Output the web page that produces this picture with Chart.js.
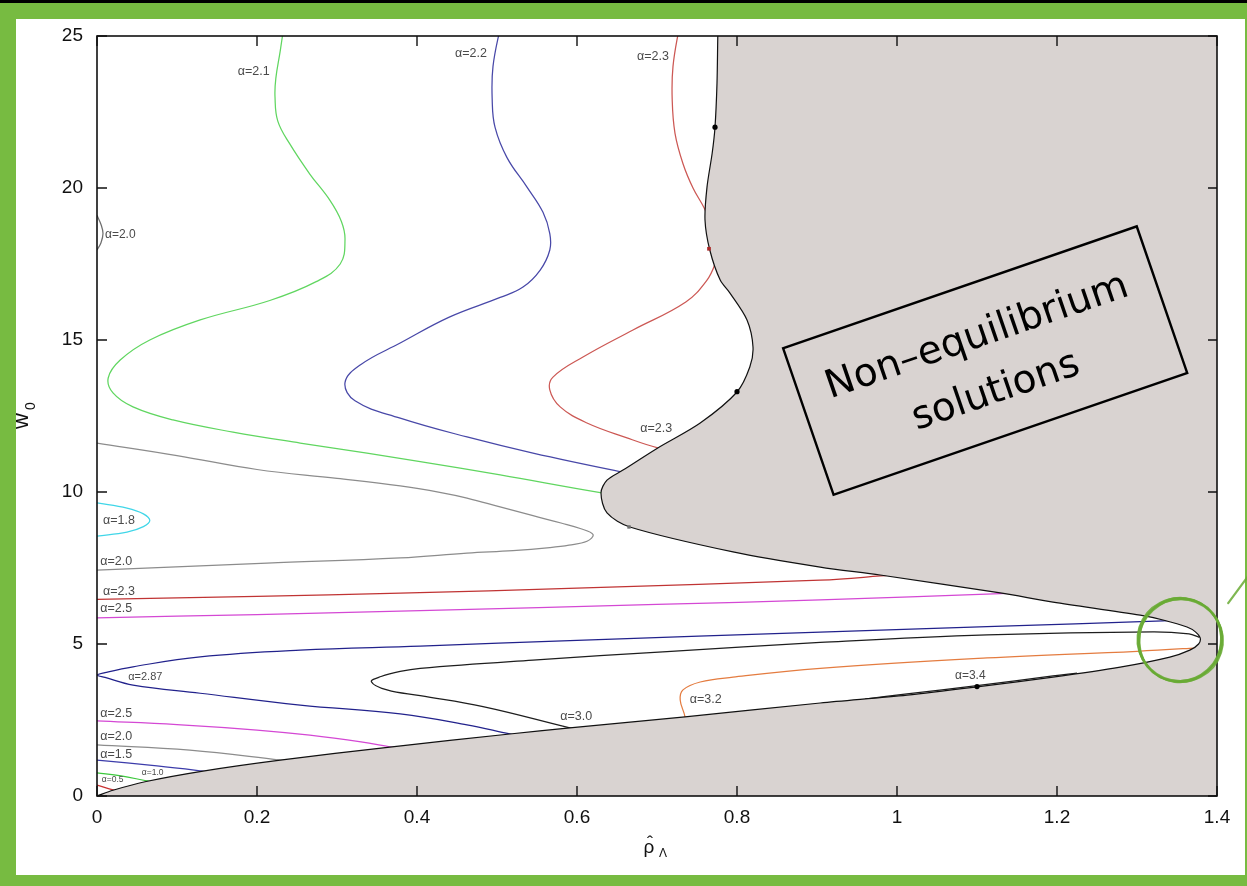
<!DOCTYPE html>
<html>
<head>
<meta charset="utf-8">
<title>w0 versus rho-hat Lambda</title>
<script src="https://cdn.jsdelivr.net/npm/chart.js@4.4.1/dist/chart.umd.min.js"></script>
<style>
  html, body { margin: 0; padding: 0; }
  body { width: 1247px; height: 886px; position: relative; overflow: hidden; background: #77bb41; }
  #topband { position: absolute; left: 0; top: 0; width: 1247px; height: 3px; background: #000; }
  #panel { position: absolute; left: 16px; top: 19px; width: 1229px; height: 856px; background: #fff; }
  #c { position: absolute; left: 0; top: 0; }
</style>
</head>
<body>
<div id="topband"></div>
<div id="panel"></div>
<canvas id="c" width="1247" height="886"></canvas>
<script>
// ---- axis ticks ----
const xTicks = [0, 0.2, 0.4, 0.6, 0.8, 1, 1.2, 1.4];
const yTicks = [0, 5, 10, 15, 20, 25];

// ---- edge of the non-equilibrium region: [rho, w0], ordered by w0 ----
const boundary = [[0,0],[0.02,0.19],[0.06,0.47],[0.1325,0.82],[0.229,1.18],[0.366,1.61],[0.516,2.04],[0.591,2.24],[0.735,2.6],[0.904,3.06],[1.0125,3.32],[1.1,3.59],[1.195,3.91],[1.279,4.24],[1.341,4.57],[1.366,4.8],[1.377,5.0],[1.379,5.2],[1.373,5.4],[1.3625,5.56],[1.3325,5.79],[1.304,5.95],[1.195,6.38],[1.129,6.68],[0.979,7.27],[0.904,7.53],[0.795,8.03],[0.666,8.85],[0.6375,9.31],[0.63,9.97],[0.6375,10.39],[0.6575,10.72],[0.701,11.45],[0.754,12.27],[0.8,13.29],[0.816,14.11],[0.82,14.77],[0.8125,15.66],[0.791,16.55],[0.779,16.97],[0.766,17.96],[0.76,18.95],[0.7625,20.03],[0.769,21.15],[0.7725,22.0],[0.775,23.45],[0.776,25]];
// outer corners closing the region off to the right of the edge
const regionCorners = [[0.777,26],[1.5,26],[1.5,-1],[-0.05,-0.475]];

// ---- alpha contours: [rho, w0] ----
const alpha21 = [[0.234,25.4],[0.229,24.5],[0.2235,23.6],[0.2225,23.0],[0.226,22.2],[0.241,21.45],[0.266,20.46],[0.291,19.6],[0.3055,18.9],[0.31,18.3],[0.304,17.5],[0.274,16.92],[0.216,16.3],[0.129,15.66],[0.066,15.0],[0.029,14.34],[0.014,13.75],[0.02,13.26],[0.045,12.8],[0.095,12.37],[0.17,11.97],[0.254,11.61],[0.3375,11.28],[0.404,11.0],[0.504,10.56],[0.631,9.97],[0.66,9.88]];
const alpha22 = [[0.505,25.4],[0.495,24],[0.494,22.9],[0.4975,22.0],[0.5125,21.0],[0.5375,20.03],[0.5575,19.2],[0.566,18.5],[0.566,17.96],[0.554,17.3],[0.5325,16.74],[0.504,16.4],[0.441,15.76],[0.379,14.9],[0.329,14.18],[0.31,13.6],[0.3225,13.0],[0.379,12.43],[0.4625,11.81],[0.545,11.28],[0.656,10.66],[0.69,10.5]];
const alpha23top = [[0.7285,25.4],[0.72,24.0],[0.719,22.9],[0.7225,21.8],[0.7325,20.8],[0.745,20.0],[0.759,19.34],[0.771,18.6],[0.776,17.95],[0.7725,17.5],[0.7625,16.97],[0.736,16.25],[0.67,15.33],[0.6075,14.44],[0.57,13.78],[0.566,13.36],[0.579,12.8],[0.6125,12.27],[0.6625,11.78],[0.701,11.45],[0.73,11.3]];
const alpha20top = [[0,19.1],[0.005,18.8],[0.0075,18.5],[0.005,18.2],[0,17.96]];
const alpha18 = [[0,9.64],[0.0375,9.47],[0.058,9.28],[0.066,9.06],[0.058,8.86],[0.0375,8.68],[0,8.55]];
const alpha20mid = [[0,11.61],[0.1,11.2],[0.2,10.74],[0.3,10.45],[0.379,10.2],[0.43,9.98],[0.4625,9.8],[0.505,9.5],[0.545,9.22],[0.58,8.98],[0.604,8.8],[0.62,8.6],[0.6125,8.38],[0.59,8.25],[0.566,8.17],[0.52,8.07],[0.4625,7.99],[0.379,7.83],[0.2125,7.66],[0,7.43]];
const alpha23low = [[0,6.47],[0.2,6.57],[0.379,6.67],[0.6,6.84],[0.904,7.1],[0.979,7.24],[1.0,7.3]];
const alpha25mid = [[0,5.86],[0.2,5.97],[0.404,6.1],[0.7,6.3],[0.904,6.45],[1.129,6.66],[1.16,6.7]];
const alpha287 = [[1.35,5.79],[1.3325,5.76],[1.1125,5.57],[0.904,5.39],[0.6,5.12],[0.404,4.93],[0.254,4.8],[0.129,4.58],[0.045,4.25],[0.01,4.06],[0,3.98],[0.01,3.9],[0.045,3.65],[0.129,3.38],[0.254,2.99],[0.379,2.7],[0.4625,2.34],[0.516,2.04],[0.53,1.97]];
const alpha30 = [[1.378,5.22],[1.365,5.33],[1.32,5.4],[1.1125,5.3],[0.904,5.05],[0.7125,4.75],[0.545,4.47],[0.404,4.2],[0.379,4.1],[0.355,3.93],[0.343,3.76],[0.3625,3.49],[0.404,3.3],[0.4825,2.94],[0.591,2.24],[0.6,2.19]];
const alpha32 = [[0.733,2.5],[0.735,2.6],[0.729,3.16],[0.7325,3.49],[0.754,3.75],[0.795,3.91],[0.904,4.2],[1.1125,4.54],[1.3,4.76],[1.366,4.86],[1.385,4.9]];
const alpha34 = [[0.96,3.19],[1.0125,3.36],[1.1,3.63],[1.195,3.95],[1.225,4.04]];
const alpha25low = [[0,2.47],[0.1,2.35],[0.2,2.17],[0.266,2.0],[0.33,1.78],[0.366,1.62],[0.38,1.56]];
const alpha20low = [[0,1.68],[0.116,1.51],[0.229,1.18],[0.24,1.14]];
const alpha15 = [[0,1.18],[0.075,0.99],[0.1325,0.82],[0.14,0.79]];
const alpha10 = [[0,0.76],[0.03,0.66],[0.06,0.51],[0.066,0.48]];
const alpha05 = [[0,0.36],[0.02,0.2],[0.025,0.17]];

// ---- marked solutions ----
const blackDots = [[0.7725,22.0],[0.8,13.3],[1.1,3.6]];
const redSquares = [[0.765,18.0]];
const greySquares = [[0.665,8.85]];

// ---- contour labels (text, rho, w0 of the label's left end) ----
const labelText = ['α=2.1','α=2.2','α=2.3','α=2.0','α=2.3','α=1.8','α=2.0','α=2.3','α=2.5','α=2.87','α=3.0','α=3.2','α=3.4','α=2.5','α=2.0','α=1.5','α=1.0','α=0.5'];
const labelRho  = [0.176, 0.4475, 0.675, 0.01, 0.679, 0.0075, 0.004, 0.0075, 0.004, 0.039, 0.579, 0.741, 1.0725, 0.004, 0.004, 0.004, 0.056, 0.006];
const labelW    = [23.82, 24.41, 24.31, 18.45, 12.1, 9.05, 7.7, 6.74, 6.15, 3.91, 2.63, 3.16, 3.95, 2.70, 1.94, 1.38, 0.76, 0.53];
const labelPx   = [12.5, 12.5, 12.5, 12, 12.5, 12.5, 12.5, 12.5, 12.5, 11, 12.5, 12.5, 12, 12.5, 12.5, 12.5, 8.5, 8.5];

// ---- annotation anchors (data space) ----
const boxCentre = [1.11, 14.34];
const circleCentre = [1.354, 5.13];

const pts = arr => arr.map(([x, y]) => ({x, y}));

// contour series with their line colours
const contourSeries = [
  [alpha21, 'rgb(96,214,96)'],
  [alpha22, 'rgb(72,72,168)'],
  [alpha23top, 'rgb(204,88,84)'],
  [alpha20top, 'rgb(110,110,110)'],
  [alpha18, 'rgb(64,214,232)'],
  [alpha20mid, 'rgb(140,140,140)'],
  [alpha23low, 'rgb(192,52,52)'],
  [alpha25mid, 'rgb(212,72,212)'],
  [alpha287, 'rgb(34,34,140)'],
  [alpha30, 'rgb(30,30,30)'],
  [alpha32, 'rgb(228,124,64)'],
  [alpha34, 'rgb(30,30,30)'],
  [alpha25low, 'rgb(212,72,212)'],
  [alpha20low, 'rgb(140,140,140)'],
  [alpha15, 'rgb(60,60,170)'],
  [alpha10, 'rgb(60,200,60)'],
  [alpha05, 'rgb(200,50,50)']
];

const datasets = [];
// marked points, on top of everything
datasets.push({ data: pts(blackDots), showLine: false, pointRadius: 2.6, pointBackgroundColor: '#000', pointBorderWidth: 0, order: 0 });
datasets.push({ data: pts(redSquares), showLine: false, pointStyle: 'rect', pointRadius: 2.6, pointBackgroundColor: 'rgb(170,40,40)', pointBorderWidth: 0, order: 0 });
datasets.push({ data: pts(greySquares), showLine: false, pointStyle: 'rect', pointRadius: 2.4, pointBackgroundColor: 'rgb(110,110,110)', pointBorderWidth: 0, order: 0 });
// shaded region with its black edge
datasets.push({
  data: pts(boundary.concat(regionCorners)),
  borderColor: '#111', borderWidth: 1.2, backgroundColor: 'rgb(217,211,209)',
  fill: 'shape', tension: 0.3, pointRadius: 0, order: 1
});
// contours drawn underneath the region
contourSeries.forEach(([arr, col]) => {
  datasets.push({ data: pts(arr), borderColor: col, borderWidth: 1.25, fill: false, tension: 0.4, pointRadius: 0, order: 2 });
});

const FONT = "'Liberation Sans', Arial, Helvetica, sans-serif";

const decor = {
  id: 'decor',
  afterDatasetsDraw(chart) {
    const {ctx, chartArea: a, scales: {x, y}} = chart;
    ctx.save();
    // frame
    ctx.strokeStyle = '#111';
    ctx.lineWidth = 1.6;
    ctx.strokeRect(a.left, a.top, a.right - a.left, a.bottom - a.top);
    // inward tick marks on all four sides
    ctx.lineWidth = 1.4;
    ctx.beginPath();
    xTicks.forEach(v => {
      const px = x.getPixelForValue(v);
      ctx.moveTo(px, a.bottom); ctx.lineTo(px, a.bottom - 10);
      ctx.moveTo(px, a.top); ctx.lineTo(px, a.top + 10);
    });
    yTicks.forEach(v => {
      const py = y.getPixelForValue(v);
      ctx.moveTo(a.left, py); ctx.lineTo(a.left + 10, py);
      ctx.moveTo(a.right, py); ctx.lineTo(a.right - 9, py);
    });
    ctx.stroke();

    // contour labels
    ctx.fillStyle = '#4a4a4a';
    ctx.textAlign = 'left';
    ctx.textBaseline = 'middle';
    labelText.forEach((t, i) => {
      ctx.font = labelPx[i] + 'px ' + FONT;
      ctx.fillText(t, x.getPixelForValue(labelRho[i]), y.getPixelForValue(labelW[i]));
    });

    // boxed note in the shaded region
    const bx = x.getPixelForValue(boxCentre[0]);
    const by = y.getPixelForValue(boxCentre[1]);
    ctx.translate(bx, by);
    ctx.rotate(-19 * Math.PI / 180);
    ctx.strokeStyle = '#000';
    ctx.lineWidth = 2.4;
    ctx.strokeRect(-187, -77, 374, 155);
    ctx.fillStyle = '#000';
    ctx.textAlign = 'center';
    ctx.textBaseline = 'alphabetic';
    ctx.font = "39px 'DejaVu Sans', sans-serif";
    ctx.fillText('Non–equilibrium', 0, -14);
    ctx.fillText('solutions', 0, 44);
    ctx.restore();

    // axis titles
    ctx.save();
    ctx.fillStyle = '#111';
    ctx.textAlign = 'center';
    ctx.textBaseline = 'alphabetic';
    const tx = (a.left + a.right) / 2 - 8;
    ctx.font = '19px ' + FONT;
    ctx.fillText('ρ', tx, 853);
    ctx.font = '18px ' + FONT;
    ctx.fillText('ˆ', tx + 1, 849);
    ctx.font = '12px ' + FONT;
    ctx.fillText('Λ', tx + 14, 857);

    ctx.translate(24, (a.top + a.bottom) / 2 + 5);
    ctx.rotate(-Math.PI / 2);
    ctx.font = '22px ' + FONT;
    ctx.fillText('w', 0, 4);
    ctx.font = '14px ' + FONT;
    ctx.fillText('0', 15, 11);
    ctx.restore();
  },
  afterDraw(chart) {
    // hand-drawn green ring round the tip of the region
    const {ctx, scales: {x, y}} = chart;
    const cx = x.getPixelForValue(circleCentre[0]);
    const cy = y.getPixelForValue(circleCentre[1]);
    ctx.save();
    ctx.strokeStyle = 'rgba(104,170,52,0.85)';
    ctx.lineCap = 'round';
    const rings = [[42, 41, 0.0, 2.2], [43, 42, 0.3, 1.6], [41, 42.5, 0.9, 1.6], [42.5, 40.5, 1.7, 1.4], [41.5, 40, 2.4, 1.2]];
    rings.forEach(([rx, ry, rot, lw]) => {
      ctx.lineWidth = lw;
      ctx.beginPath();
      ctx.ellipse(cx, cy, rx, ry, rot, 0, Math.PI * 2);
      ctx.stroke();
    });
    ctx.lineWidth = 2.2;
    ctx.beginPath();
    ctx.moveTo(cx + 48, cy - 37);
    ctx.lineTo(cx + 68, cy - 64);
    ctx.stroke();
    ctx.restore();
  }
};

new Chart(document.getElementById('c'), {
  type: 'line',
  data: { datasets },
  options: {
    responsive: false,
    animation: false,
    events: [],
    layout: { padding: { left: 16, top: 36, right: 30, bottom: 11 } },
    plugins: { legend: { display: false }, tooltip: { enabled: false } },
    scales: {
      x: {
        type: 'linear', min: 0, max: 1.4,
        afterBuildTicks: s => { s.ticks = xTicks.map(v => ({ value: v })); },
        ticks: { color: '#111', font: { family: FONT, size: 19 }, padding: 10, maxRotation: 0,
                 callback: v => String(Math.round(v * 10) / 10) },
        grid: { display: false, drawTicks: false },
        border: { display: false },
        afterFit: s => { s.height = 79; }
      },
      y: {
        type: 'linear', min: 0, max: 25,
        afterBuildTicks: s => { s.ticks = yTicks.map(v => ({ value: v })); },
        ticks: { color: '#111', font: { family: FONT, size: 19 }, padding: 14 },
        grid: { display: false, drawTicks: false },
        border: { display: false },
        afterFit: s => { s.width = 81; }
      }
    }
  },
  plugins: [decor]
});
</script>
</body>
</html>
